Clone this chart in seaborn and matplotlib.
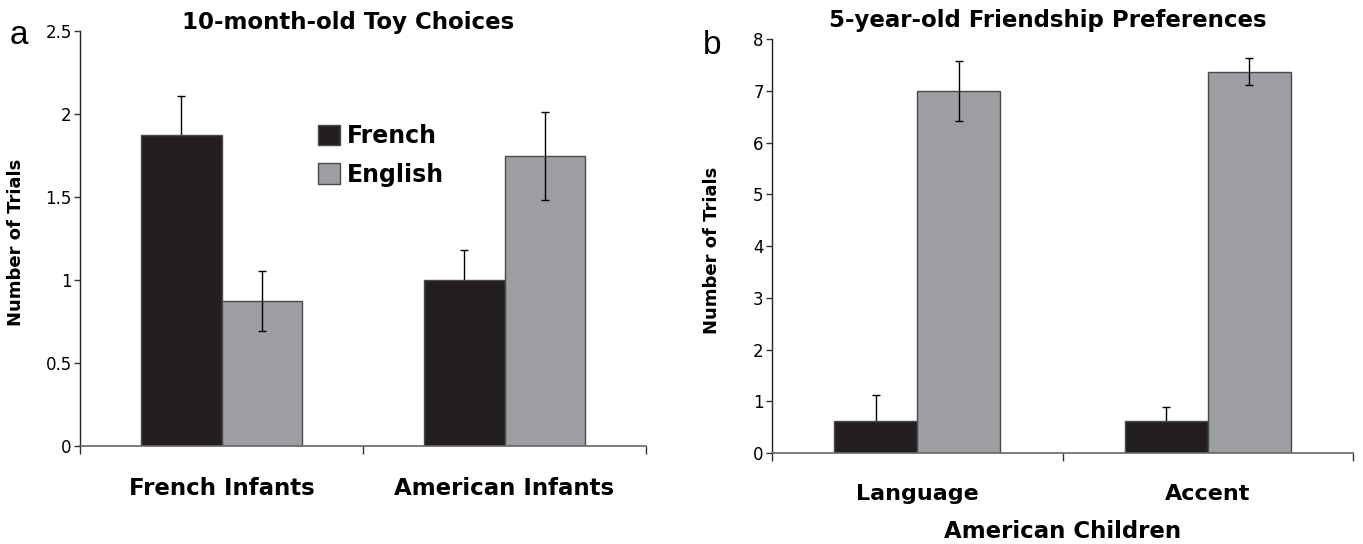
import matplotlib
matplotlib.use("Agg")
import numpy as np
import pandas as pd
import seaborn as sns
import matplotlib.pyplot as plt
from matplotlib import font_manager as fm

# 数据
toy_groups = ["French Infants", "American Infants"]
toy_french = [1.875, 1.0]
toy_french_err = [0.235, 0.18]
toy_english = [0.875, 1.75]
toy_english_err = [0.18, 0.265]

friend_groups = ["Language", "Accent"]
friend_french = [0.625, 0.625]
friend_french_err = [0.5, 0.26]
friend_english = [7.0, 7.375]
friend_english_err = [0.575, 0.255]

languages = ["French", "English"]
colors = ["#231f20", "#9d9ea2"]

sns.set_style("white")
installed = {f.name for f in fm.fontManager.ttflist}
narrow = "DejaVu Sans Condensed" if "DejaVu Sans Condensed" in installed else "Liberation Sans Narrow" \
    if "Liberation Sans Narrow" in installed else "DejaVu Sans"
plt.rcParams["font.family"] = ["DejaVu Sans"]
plt.rcParams["text.color"] = "black"
plt.rcParams["axes.labelcolor"] = "black"
plt.rcParams["xtick.color"] = "black"
plt.rcParams["ytick.color"] = "black"


def make_df(groups, french, english):
    return pd.DataFrame({
        "group": groups * 2,
        "lang": [languages[0]] * len(groups) + [languages[1]] * len(groups),
        "value": list(french) + list(english),
    })


def draw_panel(ax, groups, french, french_err, english, english_err, ymax, ystep, ylab_x):
    df = make_df(groups, french, english)
    sns.barplot(data=df, x="group", y="value", hue="lang", hue_order=languages,
                palette=colors, width=0.57, errorbar=None, edgecolor="#4a4a4a",
                linewidth=1, ax=ax, saturation=1, zorder=2)
    # 误差线: 黑色柱子的误差线画在柱子后面 (下半部分被遮住)
    for cont, errs, z in zip(ax.containers, [french_err, english_err], [1, 5]):
        xs = [b.get_x() + b.get_width() / 2 for b in cont]
        hs = [b.get_height() for b in cont]
        ax.errorbar(xs, hs, yerr=errs, fmt="none", ecolor="black", elinewidth=1,
                    capsize=3, capthick=1, zorder=z)

    ticks = np.arange(0, ymax + ystep / 2, ystep)
    ax.set_xlim(-0.5, len(groups) - 0.5)
    ax.set_ylim(0, ymax)
    ax.set_yticks(ticks)
    ax.set_yticklabels([f"{v:g}" for v in ticks], family=narrow, fontsize=12)
    ax.set_xticks(range(len(groups)))
    ax.set_xticklabels(groups, fontsize=16.5, fontweight="bold")
    ax.set_xticks(np.arange(-0.5, len(groups)), minor=True)
    ax.tick_params(axis="x", which="major", bottom=False, length=0, pad=22)
    ax.tick_params(axis="x", which="minor", bottom=True, length=6, width=1,
                   color="#333333", direction="out")
    ax.tick_params(axis="y", left=True, length=4, width=1, color="#333333",
                   direction="out", pad=2)
    for s in ["top", "right"]:
        ax.spines[s].set_visible(False)
    ax.spines["left"].set_color("#222222")
    ax.spines["bottom"].set_color("#666666")
    ax.spines["left"].set_linewidth(1)
    ax.spines["bottom"].set_linewidth(1.2)
    ax.set_xlabel("")
    ax.set_ylabel("Number of Trials", fontsize=13, fontweight="bold")
    ax.yaxis.set_label_coords(ylab_x, 0.49)


fig = plt.figure(figsize=(13.63, 5.44), dpi=100)
ax1 = fig.add_axes([0.0587, 0.180, 0.4153, 0.763])
ax2 = fig.add_axes([0.5664, 0.167, 0.4263, 0.761])

draw_panel(ax1, toy_groups, toy_french, toy_french_err, toy_english, toy_english_err, 2.5, 0.5, -0.097)
draw_panel(ax2, friend_groups, friend_french, friend_french_err, friend_english, friend_english_err,
           8, 1, -0.088)
ax2.set_xticklabels(friend_groups, fontsize=16, fontweight="bold")

ax1.legend(loc="upper left", bbox_to_anchor=(0.42, 0.775), frameon=False,
           prop={"weight": "bold", "size": 17}, borderpad=0, borderaxespad=0,
           handlelength=0.95, handleheight=0.95, handletextpad=0.3, labelspacing=0.6)
ax2.get_legend().remove()
ax2.set_xlabel("American Children", fontsize=16.5, fontweight="bold", labelpad=12)

fig.text(348 / 1363, 1 - 22 / 544, "10-month-old Toy Choices", ha="center", va="center",
         fontsize=16.5, fontweight="bold")
fig.text(1048 / 1363, 1 - 20 / 544, "5-year-old Friendship Preferences", ha="center", va="center",
         fontsize=16.5, fontweight="bold")
fig.text(19 / 1363, 1 - 35 / 544, "a", ha="center", va="center", fontsize=24, family="Liberation Sans")
fig.text(712 / 1363, 1 - 46 / 544, "b", ha="center", va="center", fontsize=24, family="Liberation Sans")

fig.savefig("out.png", dpi=100)
